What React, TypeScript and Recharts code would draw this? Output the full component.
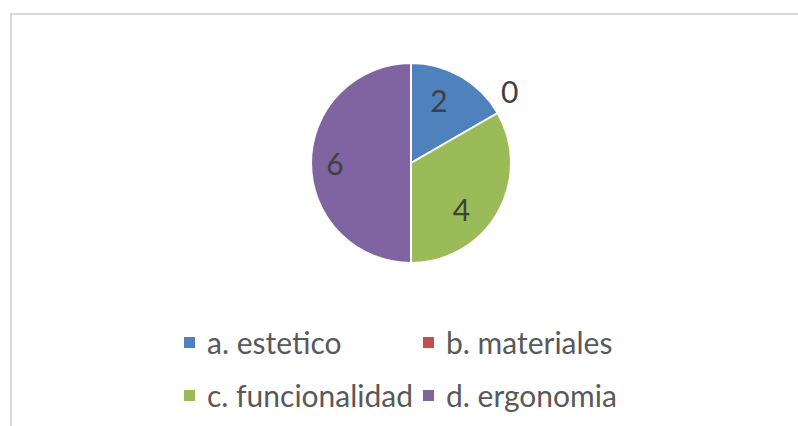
import React from 'react';
import { PieChart, Pie, Cell, Legend } from 'recharts';

const categories = ['a. estetico', 'b. materiales', 'c. funcionalidad', 'd. ergonomia'];
const counts = [2, 0, 4, 6];
const colors = ['#4f81bd', '#c0504d', '#9bbb59', '#8064a2'];

const data = categories.map((name, i) => ({ name, value: counts[i] }));

const RADIAN = Math.PI / 180;
const FONT = 'Lato, "Open Sans", sans-serif';

// Excel "best fit" nudges the labels a little off the slice middle
const labelAngleNudge = [6, 6, -12, 0];
const labelRadius = [0.69, 1.22, 0.68, 0.76];

const renderLabel = (props: any) => {
  const { cx, cy, midAngle, outerRadius, value, index } = props;
  const r = outerRadius * labelRadius[index];
  const a = (midAngle + labelAngleNudge[index]) * RADIAN;
  const x = cx + r * Math.cos(-a);
  const y = cy + r * Math.sin(-a);
  return (
    <text
      x={x}
      y={y}
      fill="#404040"
      fontSize={30}
      fontFamily={FONT}
      textAnchor="middle"
      dominantBaseline="central"
    >
      {value}
    </text>
  );
};

// legend laid out as a 2x2 grid like the original
const legendCols = [184, 423];
const legendRows = [342, 395];

const renderLegend = (props: any) => {
  const { payload } = props;
  return (
    <div style={{ position: 'relative', width: 798, height: 426 }}>
      {(payload || []).map((entry: any, i: number) => (
        <div
          key={entry.value}
          style={{
            position: 'absolute',
            left: legendCols[i % 2],
            top: legendRows[Math.floor(i / 2)],
            transform: 'translateY(-50%)',
            display: 'flex',
            alignItems: 'center',
            whiteSpace: 'nowrap',
          }}
        >
          <span
            style={{
              display: 'inline-block',
              width: 11,
              height: 11,
              background: entry.color,
              marginRight: 12,
            }}
          />
          <span style={{ fontFamily: FONT, fontSize: 30, color: '#595959', lineHeight: '36px' }}>
            {entry.value}
          </span>
        </div>
      ))}
    </div>
  );
};

export default function App() {
  return (
    <div
      style={{
        position: 'fixed',
        left: 0,
        top: 0,
        width: 798,
        height: 426,
        background: '#fff',
        overflow: 'hidden',
      }}
    >
      <div
        style={{
          position: 'absolute',
          left: 10,
          top: 13,
          width: 800,
          height: 430,
          border: '2px solid #d9d9d9',
          boxSizing: 'border-box',
        }}
      />
      <PieChart
        width={798}
        height={426}
        margin={{ top: 0, right: 0, bottom: 0, left: 0 }}
        style={{ position: 'absolute', left: 0, top: 0 }}
      >
        <Pie
          data={data}
          dataKey="value"
          nameKey="name"
          cx={411}
          cy={163}
          outerRadius={100}
          startAngle={90}
          endAngle={-270}
          stroke="#ffffff"
          strokeWidth={2}
          label={renderLabel}
          labelLine={false}
          isAnimationActive={false}
        >
          {data.map((d, i) => (
            <Cell key={d.name} fill={colors[i]} />
          ))}
        </Pie>
        <Legend
          content={renderLegend}
          wrapperStyle={{ position: 'absolute', left: 0, top: 0, width: 798, height: 426 }}
        />
      </PieChart>
    </div>
  );
}
